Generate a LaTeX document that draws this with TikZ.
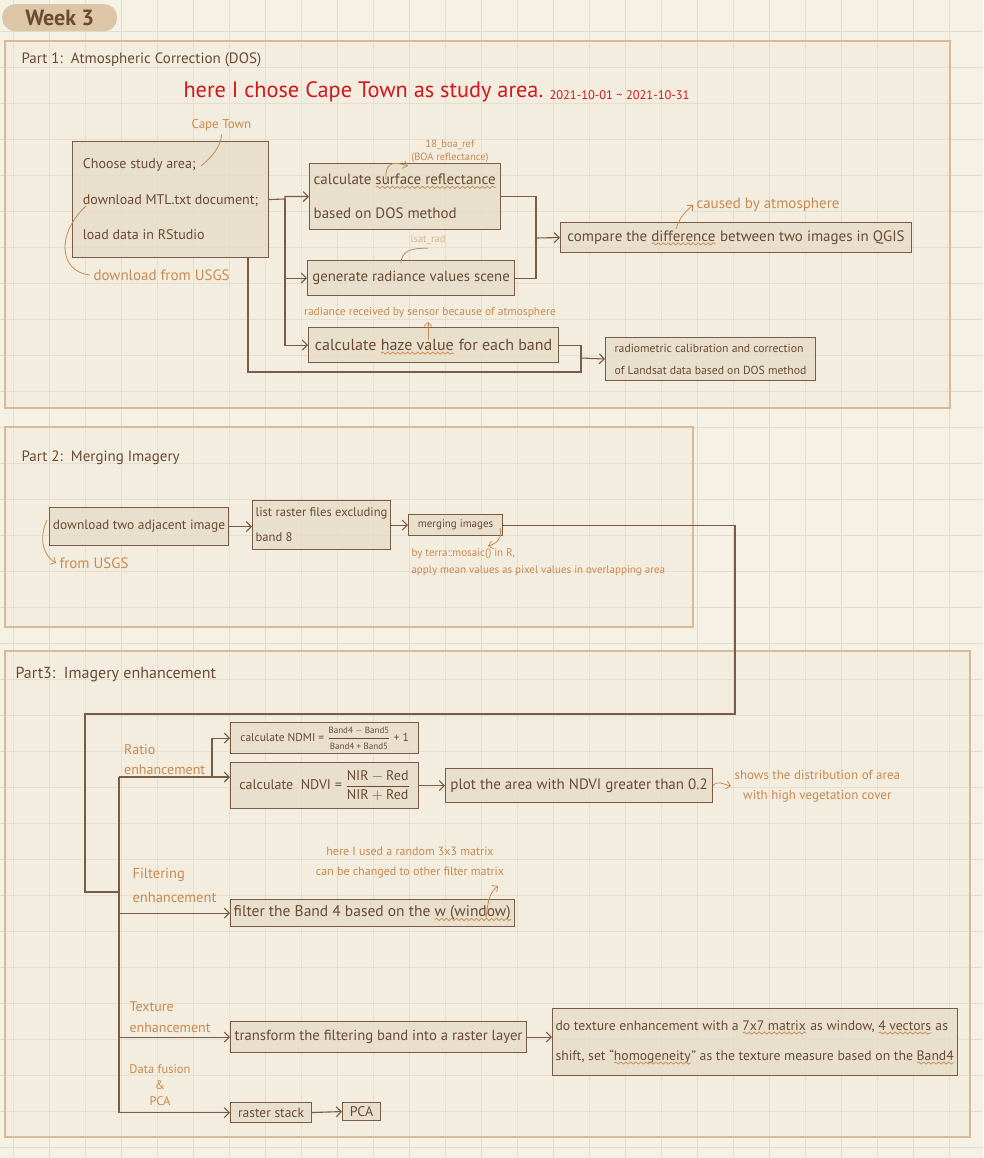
\documentclass[tikz,border=0pt]{standalone}
\usepackage{amsmath}
\usepackage{fontspec}
\setmainfont{PT Sans}
\usepackage{xcolor}
\usepackage{tikz}
\usetikzlibrary{arrows.meta,calc,decorations.pathmorphing}
\definecolor{paper}{HTML}{F5F1E5}
\definecolor{gridline}{HTML}{E2DCCD}
\definecolor{paneledge}{HTML}{D8BA98}
\definecolor{panelfill}{HTML}{EFE6D6}
\definecolor{tab}{HTML}{DDC5A7}
\definecolor{ink}{HTML}{6A4A33}
\definecolor{boxedge}{HTML}{7A5B45}
\definecolor{boxfill}{HTML}{E6DCC8}
\definecolor{note}{HTML}{C98A52}
\definecolor{notelight}{HTML}{DDB48F}
\definecolor{pen}{HTML}{D0181C}
\newsavebox\wavybox
\newlength\wavylen
\newcommand\owave[1]{\sbox\wavybox{#1}\setlength\wavylen{\wd\wavybox}%
  \rlap{\usebox\wavybox}\raisebox{-4pt}[0pt][0pt]{\tikz[x=1cm,y=1cm]\draw[note,line width=.7pt,
    decorate,decoration={snake,amplitude=1.1pt,segment length=5pt}] (0,0) -- (\wavylen,0);}}
\newcommand\fs[2]{\fontsize{#1}{#2}\selectfont}

\begin{document}
\begin{tikzpicture}[x=1pt, y=-1pt,
  box/.style={draw=boxedge, line width=1.1pt, fill=boxfill, fill opacity=.8, text opacity=1,
    text=ink, inner sep=3pt, align=left, anchor=north west, font=\fs{15}{34}},
  title/.style={text=ink, anchor=west, font=\fs{15}{18}},
  remark/.style={text=note, anchor=west, font=\fs{15}{20}},
  line/.style={draw=boxedge, line width=1.1pt},
  arr/.style={line, -{Straight Barb[length=5pt]}},
  noteline/.style={draw=note, line width=.8pt},
  notearr/.style={noteline, -{Straight Barb[length=4pt]}}]
\useasboundingbox (0,0) rectangle (983,1158);
\fill[paper] (0,0) rectangle (983,1158);
\foreach \gx in {13,49,...,985}
  \draw[gridline,line width=.8pt] (\gx,0)--(\gx,1158);
\foreach \gy in {31,67,...,1158}
  \draw[gridline,line width=.8pt] (0,\gy)--(983,\gy);
% panels
\draw[draw=paneledge,line width=2.6pt,fill=panelfill,fill opacity=.35] (5,41) rectangle (950,408);
\draw[draw=paneledge,line width=2.6pt,fill=panelfill,fill opacity=.35] (5,427) rectangle (693,627);
\draw[draw=paneledge,line width=2.6pt,fill=panelfill,fill opacity=.35] (5,651) rectangle (970,1137);
\node[fill=tab, rounded corners=13pt, minimum width=115, minimum height=27, anchor=north west,
  text=ink, font=\fs{22}{24}\bfseries] (week) at (2,4) {Week 3};

% Part 1
\node[title] (p1title) at (18,60) {Part 1:\ \ Atmospheric Correction (DOS)};
\node[text=pen, anchor=west, font=\fs{22.3}{26}] (study) at (180,92) {here I chose Cape Town as study area.};
\node[text=pen, anchor=west, font=\fs{12.5}{14}] (dates) at (546,95) {2021-10-01 \textasciitilde{} 2021-10-31};
\node[remark, font=\fs{13}{16}] (cape) at (188,125) {Cape Town};
\node[box, minimum width=196, minimum height=116, font=\fs{14}{35.5}] (choose) at (72,141)
  {Choose study area;\\download MTL.txt document;\\load data in RStudio};
\node[remark] (usgs) at (90,275) {download from USGS};
\node[box, minimum width=191, minimum height=66] (surf) at (309,163)
  {calculate \owave{surface reflectance}\\based on DOS method};
\node[remark, font=\fs{10.5}{13}, align=center, anchor=center] (boa) at (450,151) {18\_boa\_ref\\(BOA reflectance)};
\node[box, minimum width=207, minimum height=35, font=\fs{14.8}{20}] (rad) at (307,260) {generate radiance values scene};
\node[remark, font=\fs{10.5}{13}, text=notelight, anchor=center] (lsat) at (428,240) {lsat\_rad};
\node[remark, font=\fs{11.5}{13}, anchor=center] (hazenote) at (430,313) {radiance received by sensor because of atmosphere};
\node[box, minimum width=250, minimum height=35, font=\fs{16}{20}] (haze) at (308,327) {calculate \owave{haze value} for each band};
\node[box, minimum width=351, minimum height=30, font=\fs{15}{20}] (diff) at (560,222)
  {compare the \owave{difference} between two images in QGIS};
\node[remark, anchor=center] (atmo) at (768,205) {caused by atmosphere};
\node[box, minimum width=210, minimum height=43, font=\fs{11.7}{22}] (calib) at (605,337)
  {radiometric calibration and correction\\of Landsat data based on DOS method};

\coordinate (jA) at (285,199);
\coordinate (jE) at (536,238);
\coordinate (jF) at (581,358);
\coordinate (lowL) at (248,372);
\coordinate (lowR) at (581,372);
\draw[arr] (choose.east) -- (jA) |- (surf.west);
\draw[arr] (jA) |- (rad.west);
\draw[arr] (jA) |- (haze.west);
\draw[line] (surf.east) -| (jE);
\draw[line] (rad.east) -| (jE);
\draw[arr] (jE) -- (diff.west);
\draw[line] (haze.east) -| (jF);
\draw[line] (choose.south -| lowL) -- (lowL) -- (lowR) -- (jF);
\draw[arr] (jF) -- (calib.west);

% remarks, part 1
\coordinate (areaEnd) at (201,166);
\coordinate (mtlStart) at (86,206);
\coordinate (surfTop) at (386,180);
\coordinate (radTop) at (401,263);
\coordinate (hazeMid) at (428,340);
\coordinate (diffTop) at (676,229);
\draw[noteline] (areaEnd) .. controls (215,155) and (222,142) .. (cape.south);
\draw[noteline] (mtlStart) .. controls (55,235) and (60,272) .. (usgs.west);
\draw[notearr] (surfTop) .. controls (385,165) and (390,160) .. (boa.south west);
\draw[noteline] (radTop) .. controls (402,252) and (408,248) .. (lsat.south);
\draw[notearr] (hazeMid) -- (hazenote.south -| hazeMid);
\draw[notearr] (diffTop) .. controls (680,215) and (688,210) .. (atmo.west);

% Part 2
\node[title] (p2title) at (18,458) {Part 2:\ \ Merging Imagery};
\node[box, minimum width=179, minimum height=38, font=\fs{13.4}{20}] (dl) at (49,507) {download two adjacent image};
\node[remark] (usgs2) at (56,563) {from USGS};
\node[box, minimum width=138, minimum height=49, font=\fs{12.6}{25}] (lst) at (252,500) {list raster files excluding\\band 8};
\node[box, minimum width=94, minimum height=21, inner sep=2pt, font=\fs{11}{14}] (merge) at (408,514) {merging images};
\node[remark, align=left, anchor=north west, font=\fs{11}{17}] (mosaic) at (408,545)
  {by terra::mosaic() in R,\\apply mean values as pixel values in overlapping area};
\draw[arr] (dl.east) -- (lst.west |- dl.east);
\draw[arr] (lst.east |- merge.west) -- (merge.west);
\coordinate (dlLeft) at (47,520);
\coordinate (mergeEnd) at (500,528);
\coordinate (mergeTip) at (488,546);
\draw[notearr] (dlLeft) .. controls (38,540) and (44,556) .. (usgs2.west);
\draw[notearr] (mergeEnd) .. controls (503,538) and (496,544) .. (mergeTip);

% Part 3
\node[title, font=\fs{16}{18}] (p3title) at (12,675) {Part3:\ \ Imagery enhancement};
\coordinate (turnA) at (735,714);
\coordinate (turnB) at (85,714);
\coordinate (trunkR) at (119,777);
\coordinate (trunkF) at (119,892);
\coordinate (jR) at (212,777);
\draw[line] (merge.east) -| (turnA) -- (turnB) |- (trunkF);

\node[remark, align=left, anchor=south west, inner sep=1pt, font=\fs{14}{20}] (ratio) at (123,776) {Ratio\\enhancement};
\node[box, minimum width=188, minimum height=31, inner sep=1pt, font=\fs{11.5}{14}] (ndmi) at (230,722)
  {calculate NDMI = $\dfrac{\mbox{\fs{9}{10}Band4 $-$ Band5}}{\mbox{\fs{9}{10}Band4 + Band5}}$ + 1};
\node[box, minimum width=188, minimum height=46, font=\fs{14}{18}] (ndvi) at (230,762)
  {calculate\ \ NDVI = $\dfrac{\text{NIR} - \text{Red}}{\text{NIR} + \text{Red}}$};
\node[box, minimum width=267, minimum height=34] (plot) at (445,768) {plot the area with NDVI greater than 0.2};
\node[remark, align=center, font=\fs{13}{20}] (shows) at (731,786) {shows the distribution of area\\with high vegetation cover};

\node[remark, align=left, anchor=south west, font=\fs{14.5}{24}] (filtering) at (129,906) {Filtering\\enhancement};
\node[remark, align=center, anchor=center, font=\fs{12}{20}] (matrix) at (410,863)
  {here I used a random 3x3 matrix\\can be changed to other filter matrix};
\node[box, minimum width=284, minimum height=27, font=\fs{15.5}{20}] (filt) at (230,899) {filter the Band 4 based on the \owave{w (window)}};

\node[remark, align=left, anchor=south west, font=\fs{14}{21}] (texture) at (126,1036) {Texture\\enhancement};
\node[box, minimum width=296, minimum height=31, font=\fs{14.7}{20}] (trans) at (230,1021)
  {transform the filtering band into a raster layer};
\node[box, minimum width=404, minimum height=67, font=\fs{13.7}{30}] (tex) at (552,1008)
  {do texture enhancement with a \owave{7x7 matrix} as window, \owave{4 vectors} as\\shift, set ``\owave{homogeneity}'' as the texture measure based on the \owave{Band4}};

\node[remark, align=center, anchor=center, font=\fs{12.5}{16}] (fusion) at (160,1085) {Data fusion\\\&\\PCA};
\node[box, minimum width=81, minimum height=20, inner sep=1pt, font=\fs{13.5}{16}] (stack) at (230,1102) {raster stack};
\node[box, minimum width=38, minimum height=18, inner sep=1pt, font=\fs{14}{16}] (pca) at (342,1102) {PCA};

\draw[line] (trunkR) -- (stack.west -| trunkR);
\draw[arr] (trunkR) -- (jR) |- (ndmi.west);
\draw[arr] (jR) -- (ndvi.west |- jR);
\draw[arr] (ndvi.east) -- (plot.west);
\draw[arr] (filt.west -| trunkR) -- (filt.west);
\draw[arr] (trans.west -| trunkR) -- (trans.west);
\draw[arr] (trans.east) -- (tex.west |- trans.east);
\draw[arr] (stack.west -| trunkR) -- (stack.west);
\draw[arr] (stack.east) -- (pca.west);

% remarks, part 3
\coordinate (windowMid) at (486,918);
\coordinate (matrixTip) at (498,886);
\draw[notearr] (plot.east) .. controls (718,780) and (722,784) .. (shows.west);
\draw[notearr] (windowMid) .. controls (488,900) and (490,892) .. (matrixTip);
\end{tikzpicture}
\end{document}
